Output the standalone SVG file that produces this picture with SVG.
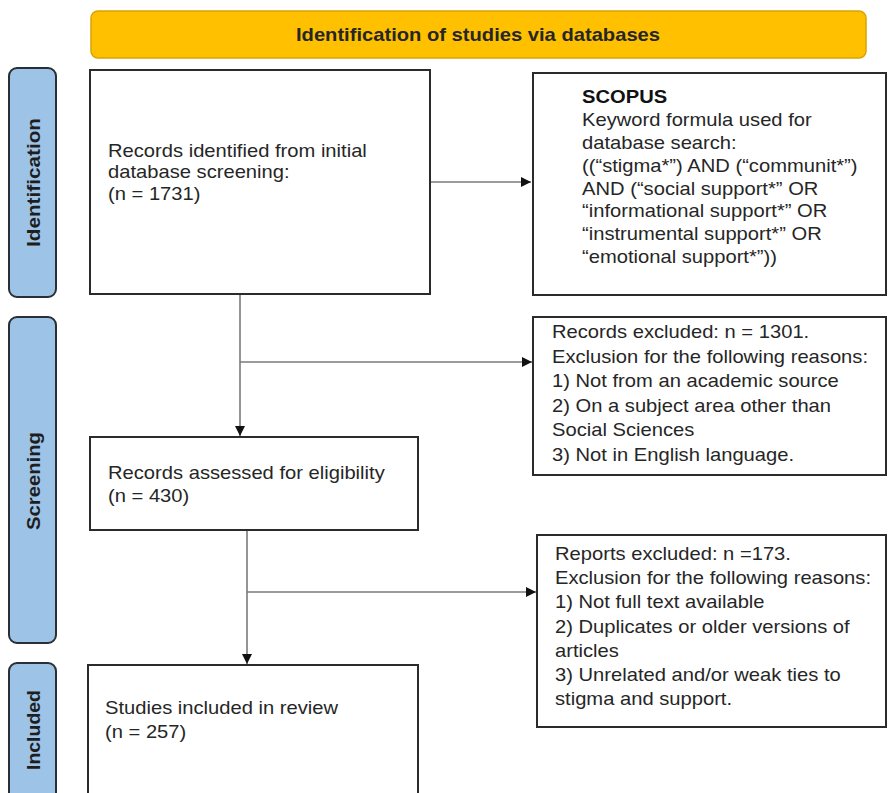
<svg xmlns="http://www.w3.org/2000/svg" width="888" height="793" viewBox="0 0 888 793">
<defs>
<style>
.bg{fill:#ffffff}
.hdr{fill:#FFC000;stroke:#D9A400;stroke-width:1.5}
.lab{fill:#9DC3E6;stroke:#2a2f36;stroke-width:2}
.box{fill:#ffffff;stroke:#2b2b2b;stroke-width:2}
.t{font-family:"Liberation Sans",Arial,sans-serif;font-size:18px;fill:#262626}
.b{font-weight:bold}
.lt{font-family:"Liberation Sans",Arial,sans-serif;font-size:19px;font-weight:bold;fill:#1e1e1e;text-anchor:middle}
.c{fill:none;stroke:#7a7a7a;stroke-width:1.6}
</style>
<marker id="ah" viewBox="0 0 10 10" refX="10" refY="5" markerWidth="10" markerHeight="10" markerUnits="userSpaceOnUse" orient="auto">
<path d="M0,0 L10,5 L0,10 z" fill="#111"/>
</marker>
</defs>
<rect class="bg" x="0" y="0" width="888" height="793"/>

<g id="header">
<rect class="hdr" x="91" y="11" width="775" height="47" rx="7"/>
<text class="t b" text-anchor="middle" transform="translate(478,41) scale(1.12,1)" fill="#1a1a1a">Identification of studies via databases</text>
</g>

<g id="label-identification">
<rect class="lab" x="9" y="68" width="47" height="229" rx="8"/>
<text class="lt" transform="translate(40,182.5) rotate(-90)" textLength="129" lengthAdjust="spacingAndGlyphs">Identification</text>
</g>
<g id="label-screening">
<rect class="lab" x="9" y="317" width="47" height="326" rx="8"/>
<text class="lt" transform="translate(40,481) rotate(-90)" textLength="98" lengthAdjust="spacingAndGlyphs">Screening</text>
</g>
<g id="label-included">
<rect class="lab" x="9" y="663" width="47" height="150" rx="8"/>
<text class="lt" transform="translate(40,730) rotate(-90)" textLength="80" lengthAdjust="spacingAndGlyphs">Included</text>
</g>

<g id="connectors">
<line class="c" x1="430" y1="182" x2="531" y2="182" marker-end="url(#ah)"/>
<line class="c" x1="240" y1="294" x2="240" y2="436" marker-end="url(#ah)"/>
<line class="c" x1="240" y1="362" x2="532" y2="362" marker-end="url(#ah)"/>
<line class="c" x1="247" y1="531" x2="247" y2="664" marker-end="url(#ah)"/>
<line class="c" x1="247" y1="592" x2="536" y2="592" marker-end="url(#ah)"/>
</g>

<g id="records-identified">
<rect class="box" x="90" y="70" width="340" height="224"/>
<text class="t" transform="translate(108,157) scale(1.12,1)"><tspan x="0" y="0">Records identified from initial</tspan><tspan x="0" y="21.5">database screening:</tspan><tspan x="0" y="43">(n = 1731)</tspan></text>
</g>

<g id="scopus">
<rect class="box" x="533" y="73" width="353" height="222"/>
<text class="t" transform="translate(582,103) scale(1.12,1)"><tspan x="0" y="0" class="b" font-weight="bold" fill="#111">SCOPUS</tspan><tspan x="0" y="22.9">Keyword formula used for</tspan><tspan x="0" y="45.8">database search:</tspan><tspan x="0" y="68.7">((“stigma*”) AND (“communit*”)</tspan><tspan x="0" y="91.6">AND (“social support*” OR</tspan><tspan x="0" y="114.5">“informational support*” OR</tspan><tspan x="0" y="137.4">“instrumental support*” OR</tspan><tspan x="0" y="160.3">“emotional support*”))</tspan></text>
</g>

<g id="records-excluded">
<rect class="box" x="533" y="317" width="353" height="158"/>
<text class="t" transform="translate(552,338) scale(1.12,1)"><tspan x="0" y="0">Records excluded: n = 1301.</tspan><tspan x="0" y="24.6">Exclusion for the following reasons:</tspan><tspan x="0" y="49.2">1) Not from an academic source</tspan><tspan x="0" y="73.8">2) On a subject area other than</tspan><tspan x="0" y="98.4">Social Sciences</tspan><tspan x="0" y="123">3) Not in English language.</tspan></text>
</g>

<g id="records-assessed">
<rect class="box" x="90" y="437" width="328" height="93"/>
<text class="t" transform="translate(108,479) scale(1.12,1)"><tspan x="0" y="0">Records assessed for eligibility</tspan><tspan x="0" y="23">(n = 430)</tspan></text>
</g>

<g id="reports-excluded">
<rect class="box" x="537" y="535" width="349" height="192"/>
<text class="t" transform="translate(555,560) scale(1.12,1)"><tspan x="0" y="0">Reports excluded: n =173.</tspan><tspan x="0" y="24.2">Exclusion for the following reasons:</tspan><tspan x="0" y="48.4">1) Not full text available</tspan><tspan x="0" y="72.6">2) Duplicates or older versions of</tspan><tspan x="0" y="96.8">articles</tspan><tspan x="0" y="121">3) Unrelated and/or weak ties to</tspan><tspan x="0" y="145.2">stigma and support.</tspan></text>
</g>

<g id="studies-included">
<rect class="box" x="88" y="665" width="330" height="150"/>
<text class="t" transform="translate(105,714) scale(1.12,1)"><tspan x="0" y="0">Studies included in review</tspan><tspan x="0" y="24">(n = 257)</tspan></text>
</g>
</svg>
